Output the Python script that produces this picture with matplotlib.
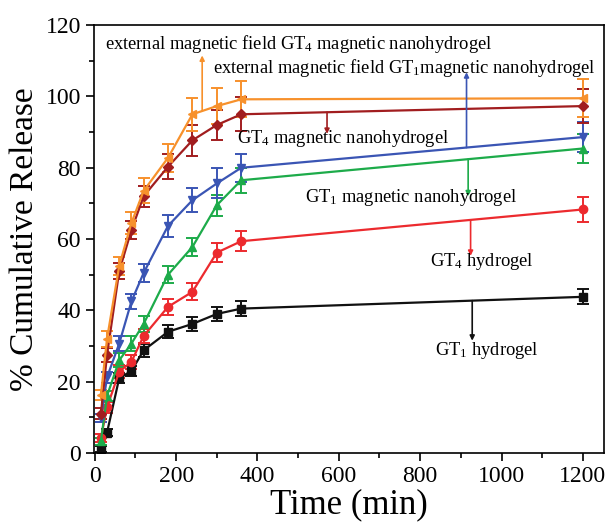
import numpy as np
import matplotlib
matplotlib.use("Agg")
import matplotlib.pyplot as plt
from matplotlib.ticker import MultipleLocator

plt.rcParams['font.family'] = ['Liberation Serif', 'DejaVu Serif']
plt.rcParams['mathtext.fontset'] = 'custom'
plt.rcParams['mathtext.rm'] = 'Liberation Serif'
plt.rcParams['mathtext.it'] = 'Liberation Serif'

# release time points (min)
time = [15, 30, 60, 90, 120, 180, 240, 300, 360, 1200]

# cumulative release (%) and error for each formulation
gt1_hydrogel = [1.2, 5.7, 21.0, 23.0, 28.8, 34.0, 36.2, 39.0, 40.5, 43.8]
gt1_hydrogel_err = [0.8, 1.0, 1.5, 1.5, 1.8, 1.8, 2.0, 2.0, 2.2, 2.1]

gt4_hydrogel = [4.2, 12.8, 22.8, 25.6, 32.8, 41.0, 45.2, 56.2, 59.4, 68.3]
gt4_hydrogel_err = [1.0, 1.5, 1.8, 2.0, 2.0, 2.2, 2.4, 2.7, 2.8, 3.4]

gt1_nano = [3.3, 16.0, 26.0, 30.7, 36.2, 50.0, 57.8, 69.5, 76.5, 85.4]
gt1_nano_err = [1.0, 1.5, 2.0, 2.0, 2.2, 2.4, 2.6, 3.0, 3.5, 4.0]

gt1_nano_field = [9.8, 21.2, 30.7, 42.5, 50.5, 63.7, 70.9, 75.6, 80.0, 88.6]
gt1_nano_field_err = [1.0, 1.5, 2.0, 2.2, 2.5, 3.0, 3.4, 4.2, 4.0, 4.1]

gt4_nano = [11.0, 27.5, 51.0, 62.5, 72.0, 80.3, 87.7, 92.0, 95.0, 97.3]
gt4_nano_err = [1.5, 2.0, 2.2, 2.5, 3.0, 3.5, 4.4, 4.3, 4.8, 4.7]

gt4_nano_field = [16.3, 32.0, 52.5, 64.5, 73.5, 82.8, 95.0, 97.3, 99.2, 99.5]
gt4_nano_field_err = [1.5, 2.2, 2.5, 3.0, 3.5, 4.0, 4.6, 5.0, 5.0, 5.3]

series = [
    (gt1_hydrogel, gt1_hydrogel_err, '#111111', 's'),
    (gt4_hydrogel, gt4_hydrogel_err, '#ec2a2e', 'o'),
    (gt1_nano, gt1_nano_err, '#1dab4a', '^'),
    (gt1_nano_field, gt1_nano_field_err, '#3a55b4', 'v'),
    (gt4_nano, gt4_nano_err, '#a11d1f', 'D'),
    (gt4_nano_field, gt4_nano_field_err, '#f7912c', '<'),
]

fig = plt.figure(figsize=(6.08, 5.24), dpi=100)
ax = fig.add_axes([0.1546, 0.1355, 0.8388, 0.8165])

for vals, err, col, mk in series:
    ms = 5 if mk == 'D' else 6
    ax.errorbar(time, vals, yerr=err, color=col, marker=mk, markersize=ms,
                lw=1.6, elinewidth=1.4, capsize=4, capthick=1.4)

# labels with arrows pointing at their curves
notes = [
    ("external magnetic field GT$_4$ magnetic nanohydrogel", gt4_nano_field, '#f7912c', 264, 111.5, 24, 114.8),
    ("external magnetic field GT$_1$magnetic nanohydrogel", gt1_nano_field, '#3a55b4', 914, 106.8, 291, 108.0),
    ("GT$_4$ magnetic nanohydrogel", gt4_nano, '#a11d1f', 571, 89.5, 350, 88.3),
    ("GT$_1$ magnetic nanohydrogel", gt1_nano, '#1dab4a', 918, 72.0, 518, 71.8),
    ("GT$_4$ hydrogel", gt4_hydrogel, '#ec2a2e', 924, 55.3, 825, 53.6),
    ("GT$_1$ hydrogel", gt1_hydrogel, '#111111', 928, 31.5, 837, 28.8),
]
for txt, vals, col, xa, ya, xt, yt in notes:
    y0 = np.interp(xa, time, vals)
    ax.annotate('', xy=(xa, ya), xytext=(xa, y0),
                arrowprops=dict(arrowstyle='-|>', color=col, lw=1.2,
                                mutation_scale=7, shrinkA=0, shrinkB=0))
    ax.text(xt, yt, txt, fontsize=13.3, ha='left', va='center')

ax.set_xlim(-2, 1252)
ax.set_ylim(0, 120)
ax.xaxis.set_major_locator(MultipleLocator(200))
ax.xaxis.set_minor_locator(MultipleLocator(100))
ax.yaxis.set_major_locator(MultipleLocator(20))
ax.yaxis.set_minor_locator(MultipleLocator(10))
ax.tick_params(which='major', direction='out', length=6, width=1.2, labelsize=17)
ax.tick_params(which='minor', direction='out', length=3.5, width=1.2)
for sp in ax.spines.values():
    sp.set_linewidth(1.2)

ax.set_xlabel('Time (min)', fontsize=25, labelpad=1)
ax.set_ylabel('% Cumulative Release', fontsize=24, labelpad=4)

plt.savefig('out.png', dpi=100)
